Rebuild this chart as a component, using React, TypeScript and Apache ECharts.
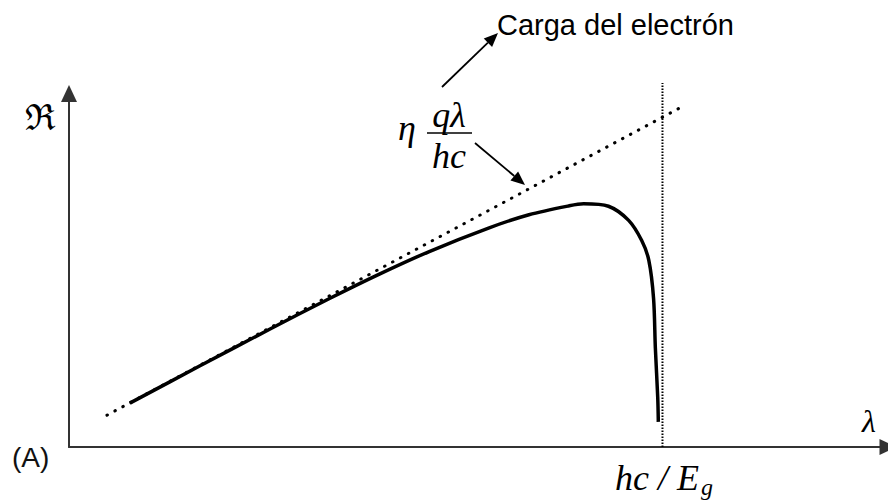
import React, { useEffect, useRef } from "react";
import * as echarts from "echarts";

// λ in units of the cut-off wavelength hc/Eg, responsivity normalised
const cutoff = 1.0;
const lambdaMax = 1.38;
const respMax = 1.0;

// ideal responsivity η·qλ/hc (dotted straight line)
const idealX = [0.064, 1.03];
const idealY = [0.09, 0.96];

// measured-like responsivity curve
const curveX = [0.1025, 0.22, 0.338, 0.439, 0.523, 0.607, 0.708, 0.775, 0.842, 0.867, 0.909, 0.943, 0.965, 0.977, 0.985, 0.988, 0.992, 0.993];
const curveY = [0.124, 0.229, 0.333, 0.42, 0.489, 0.553, 0.62, 0.657, 0.682, 0.688, 0.681, 0.641, 0.584, 0.528, 0.42, 0.28, 0.14, 0.071];

// vertical marker at the cut-off
const cutoffY = [0, 1.03];

const serifItalic = {
  fontFamily: "'Liberation Serif', 'Times New Roman', serif",
  fontStyle: "italic" as const,
  fill: "#000",
};

function arrow(x1: number, y1: number, x2: number, y2: number, len = 14, half = 6) {
  const dx = x2 - x1;
  const dy = y2 - y1;
  const d = Math.hypot(dx, dy);
  const ux = dx / d;
  const uy = dy / d;
  const bx = x2 - ux * len;
  const by = y2 - uy * len;
  const px = -uy * half;
  const py = ux * half;
  return [
    { type: "line", shape: { x1, y1, x2: bx, y2: by }, style: { stroke: "#000", lineWidth: 1.8 } },
    {
      type: "polygon",
      shape: { points: [[x2, y2], [bx + px, by + py], [bx - px, by - py]] },
      style: { fill: "#000" },
    },
  ];
}

export default function App() {
  const ref = useRef<HTMLDivElement>(null);

  useEffect(() => {
    if (!ref.current) return;
    const chart = echarts.init(ref.current, null, { renderer: "svg" });
    chart.setOption({
      animation: false,
      backgroundColor: "#fff",
      grid: { left: 69, right: -2.5, top: 93.5, bottom: 57 },
      xAxis: {
        type: "value",
        min: 0,
        max: lambdaMax,
        axisLine: {
          show: true,
          onZero: false,
          symbol: ["none", "triangle"],
          symbolSize: [16, 17],
          lineStyle: { color: "#333", width: 2 },
        },
        axisTick: { show: false },
        axisLabel: { show: false },
        splitLine: { show: false },
      },
      yAxis: {
        type: "value",
        min: 0,
        max: respMax,
        axisLine: {
          show: true,
          onZero: false,
          symbol: ["none", "triangle"],
          symbolSize: [16, 17],
          lineStyle: { color: "#333", width: 2 },
        },
        axisTick: { show: false },
        axisLabel: { show: false },
        splitLine: { show: false },
      },
      series: [
        {
          type: "line",
          data: idealX.map((x, i) => [x, idealY[i]]),
          showSymbol: false,
          lineStyle: { color: "#000", width: 3, type: [0.5, 8.5], cap: "round" },
          silent: true,
        },
        {
          type: "line",
          data: cutoffY.map((y) => [cutoff, y]),
          showSymbol: false,
          clip: false,
          lineStyle: { color: "#000", width: 2, type: [1.5, 1.5] },
          silent: true,
        },
        {
          type: "line",
          data: curveX.map((x, i) => [x, curveY[i]]),
          showSymbol: false,
          smooth: 0.3,
          lineStyle: { color: "#000", width: 3.5 },
          silent: true,
        },
      ],
      graphic: [
        {
          type: "text",
          style: {
            text: "Carga del electrón",
            x: 497,
            y: 25,
            fontSize: 29,
            fontFamily: "'Liberation Sans', Arial, sans-serif",
            fill: "#000",
            textVerticalAlign: "middle",
          },
        },
        ...arrow(442, 87, 498, 33),
        ...arrow(475, 143, 525, 185),
        { type: "text", style: { ...serifItalic, text: "η", x: 398, y: 128, fontSize: 36, textVerticalAlign: "middle" } },
        { type: "text", style: { ...serifItalic, text: "qλ", x: 449, y: 115, fontSize: 36, textAlign: "center", textVerticalAlign: "middle" } },
        { type: "line", shape: { x1: 427, y1: 133, x2: 472, y2: 133 }, style: { stroke: "#000", lineWidth: 1.5 } },
        { type: "text", style: { ...serifItalic, text: "hc", x: 449, y: 156, fontSize: 36, textAlign: "center", textVerticalAlign: "middle" } },
        {
          type: "text",
          style: {
            text: "ℜ",
            x: 25,
            y: 117,
            fontSize: 36,
            fontFamily: "'DejaVu Serif', serif",
            fill: "#000",
            textVerticalAlign: "middle",
          },
        },
        { type: "text", style: { ...serifItalic, text: "λ", x: 862, y: 421, fontSize: 32, textVerticalAlign: "middle" } },
        { type: "text", style: { ...serifItalic, text: "hc / E", x: 615, y: 478, fontSize: 36, textVerticalAlign: "middle" } },
        { type: "text", style: { ...serifItalic, text: "g", x: 701, y: 487, fontSize: 24, textVerticalAlign: "middle" } },
        {
          type: "text",
          style: {
            text: "(A)",
            x: 12,
            y: 457,
            fontSize: 28,
            fontFamily: "'Liberation Sans', Arial, sans-serif",
            fill: "#111",
            textVerticalAlign: "middle",
          },
        },
      ],
    });
    return () => chart.dispose();
  }, []);

  return <div ref={ref} style={{ width: 888, height: 504, position: "absolute", left: 0, top: 0 }} />;
}
